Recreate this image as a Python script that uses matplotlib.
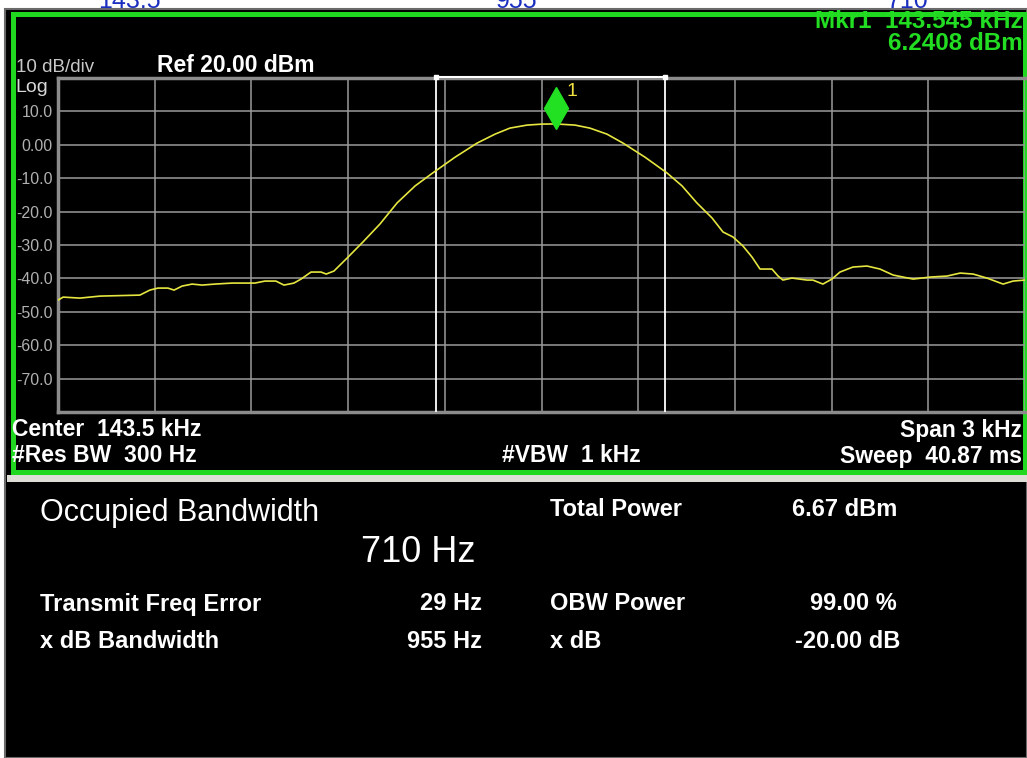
import matplotlib
matplotlib.use("Agg")
import matplotlib.pyplot as plt
import matplotlib.patches as patches
import matplotlib.transforms as mtransforms

plt.rcParams['font.family'] = ['Liberation Sans', 'DejaVu Sans']

# analyzer settings
center_khz = 143.5
span_hz = 3000
ref_dbm = 20.0
db_per_div = 10

# trace: offset from center (Hz) and level (dBm)
offset_hz = [-1500, -1484, -1432, -1370, -1246, -1215, -1190, -1159, -1140, -1115,
             -1084, -1053, -1013, -960, -889, -858, -824, -799, -768, -746,
             -715, -684, -668, -644, -603, -554, -501, -448, -392, -337,
             -268, -200, -144, -98, -45, 2, 45, 104, 150, 203,
             253, 321, 389, 436, 482, 529, 563, 594, 625, 653,
             678, 715, 734, 749, 777, 824, 842, 873, 901, 926,
             966, 1010, 1050, 1091, 1153, 1206, 1258, 1299, 1339, 1382,
             1432, 1463, 1500]
level_dbm = [-46.5, -45.6, -45.9, -45.3, -45.0, -43.5, -42.9, -42.9, -43.5, -42.3,
             -41.7, -42.0, -41.7, -41.4, -41.4, -40.8, -40.8, -42.0, -41.4, -40.2,
             -38.1, -38.1, -38.7, -37.8, -33.9, -29.1, -23.7, -17.4, -12.3, -8.4,
             -3.7, 0.5, 3.2, 5.0, 5.9, 6.2, 6.24, 5.9, 5.0, 3.2,
             0.5, -3.7, -8.4, -12.3, -17.4, -21.9, -26.1, -27.6, -30.3, -33.6,
             -37.2, -37.2, -39.3, -40.5, -39.9, -40.5, -40.5, -41.7, -40.2, -38.1,
             -36.6, -36.3, -37.2, -39.0, -40.2, -39.6, -39.3, -38.4, -38.7, -39.9,
             -41.7, -40.8, -40.5]

# marker and measurement results
mkr_offset_hz = 45
mkr_dbm = 6.2408
obw_hz = 710
freq_err_hz = 29

ytick_vals = [10, 0, -10, -20, -30, -40, -50, -60, -70]
ytick_labels = ['10.0', '0.00', '-10.0', '-20.0', '-30.0', '-40.0', '-50.0', '-60.0', '-70.0']

top_strip_labels = ['143.5', '955', '710']

freq_khz = [center_khz + f / 1000 for f in offset_hz]
mkr_khz = center_khz + mkr_offset_hz / 1000
obw_lo = center_khz + (freq_err_hz - obw_hz / 2) / 1000
obw_hi = center_khz + (freq_err_hz + obw_hz / 2) / 1000

W, H = 1027, 758
fig = plt.figure(figsize=(W / 100, H / 100), dpi=100)
fig.patch.set_facecolor('white')

# background / screen frame, in pixel units
bg = fig.add_axes([0, 0, 1, 1])
bg.set_xlim(0, W)
bg.set_ylim(H, 0)
bg.axis('off')
bg.add_patch(patches.Rectangle((5, 9), W - 5, H - 9, facecolor='black',
                               edgecolor='#6a6a6a', linewidth=1.5, zorder=1))
bg.add_patch(patches.Rectangle((7, 475), W - 7, 7, facecolor='#deded6', edgecolor='none', zorder=1))
bg.add_patch(patches.Rectangle((12.5, 14), 1012, 458, facecolor='none',
                               edgecolor='#1fd81f', linewidth=3.6, zorder=2))

# cut off blue labels above the screen (hidden behind the screen)
for x, s in zip([129, 517, 908], top_strip_labels):
    bg.text(x, 7.5, s, color='#1a2fc0', fontsize=18, ha='center', va='baseline', zorder=0.5)

bg.text(16, 68, '10 dB/div', color='#c8c8c8', fontsize=13.5, va='center')
bg.text(15, 87, 'Log', color='#d8d8d8', fontsize=14, va='center')
bg.text(157, 66, 'Ref 20.00 dBm', color='white', fontsize=16.5, fontweight='bold', va='center')
bg.text(1023, 21, 'Mkr1  143.545 kHz', color='#22dd22', fontsize=17.5, fontweight='bold',
        ha='right', va='center')
bg.text(1023, 44, '6.2408 dBm', color='#22dd22', fontsize=17.5, fontweight='bold',
        ha='right', va='center')

bg.text(12, 430, 'Center  143.5 kHz', color='white', fontsize=16.5, fontweight='bold', va='center')
bg.text(12, 456, '#Res BW  300 Hz', color='white', fontsize=16.5, fontweight='bold', va='center')
bg.text(571, 456, '#VBW  1 kHz', color='white', fontsize=16.5, fontweight='bold',
        ha='center', va='center')
bg.text(1022, 430, 'Span 3 kHz', color='white', fontsize=16.5, fontweight='bold',
        ha='right', va='center')
bg.text(1022, 456, 'Sweep  40.87 ms', color='white', fontsize=16.5, fontweight='bold',
        ha='right', va='center')

# measurement panel
bg.text(40, 513, 'Occupied Bandwidth', color='white', fontsize=22, va='center')
bg.text(475, 552, '710 Hz', color='white', fontsize=26, ha='right', va='center')
bg.text(40, 604, 'Transmit Freq Error', color='white', fontsize=17, fontweight='bold', va='center')
bg.text(482, 604, '29 Hz', color='white', fontsize=17, fontweight='bold', ha='right', va='center')
bg.text(40, 642, 'x dB Bandwidth', color='white', fontsize=17, fontweight='bold', va='center')
bg.text(482, 642, '955 Hz', color='white', fontsize=17, fontweight='bold', ha='right', va='center')
bg.text(550, 510, 'Total Power', color='white', fontsize=17, fontweight='bold', va='center')
bg.text(897, 510, '6.67 dBm', color='white', fontsize=17, fontweight='bold', ha='right', va='center')
bg.text(550, 604, 'OBW Power', color='white', fontsize=17, fontweight='bold', va='center')
bg.text(897, 604, '99.00 %', color='white', fontsize=17, fontweight='bold', ha='right', va='center')
bg.text(550, 642, 'x dB', color='white', fontsize=17, fontweight='bold', va='center')
bg.text(900, 642, '-20.00 dB', color='white', fontsize=17, fontweight='bold', ha='right', va='center')

# graticule
ax = fig.add_axes([58 / W, (H - 412) / H, 967 / W, 334 / H])
ax.set_facecolor('none')
ax.set_xlim(center_khz - span_hz / 2000, center_khz + span_hz / 2000)
ax.set_ylim(ref_dbm - 10 * db_per_div, ref_dbm)
ax.set_xticks([center_khz + (k - 5) * span_hz / 10000 for k in range(11)])
ax.set_xticklabels([])
ax.set_yticks(ytick_vals)
ax.set_yticklabels(ytick_labels)
ax.tick_params(length=0, pad=4, labelsize=11.5, labelcolor='#b0b0b0')
ax.grid(True, color='#9a9a9a', linewidth=1.1)
ax.set_axisbelow(True)
for side in ['left', 'top', 'bottom']:
    ax.spines[side].set_color('#8c8c8c')
    ax.spines[side].set_linewidth(2.5)
ax.spines['right'].set_visible(False)

# occupied bandwidth limits
for f in [obw_lo, obw_hi]:
    ax.axvline(f, color='white', linewidth=1.3, zorder=3)
ax.plot([obw_lo, obw_hi], [ref_dbm + 0.3, ref_dbm + 0.3], color='white', linewidth=1.5,
        marker='s', markersize=2.5, clip_on=False, zorder=4)

ax.plot(freq_khz, level_dbm, color='#e6e640', linewidth=1.2, zorder=5)

# marker 1
up = mtransforms.offset_copy(ax.transData, fig=fig, y=16, units='dots')
ax.plot([mkr_khz], [mkr_dbm], marker='d', markersize=21, color='#22e022',
        transform=up, zorder=6, linestyle='none')
ax.annotate('1', (mkr_khz, mkr_dbm), xytext=(10, 32), textcoords='offset pixels',
            color='#f0e040', fontsize=14, ha='left', va='center', zorder=6)

fig.savefig('out.png', dpi=100, facecolor=fig.get_facecolor())
